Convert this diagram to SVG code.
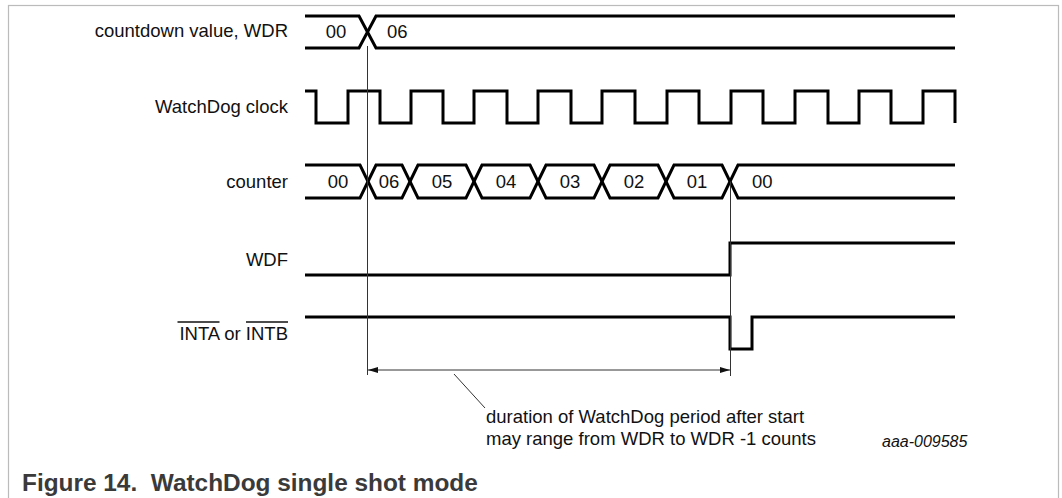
<svg xmlns="http://www.w3.org/2000/svg" width="1062" height="498" viewBox="0 0 1062 498">
<style>
.lbl{font-family:"Liberation Sans",Arial,sans-serif;font-size:18.5px;fill:#111}
.end{text-anchor:end}
.mid{text-anchor:middle}
.sig{fill:none;stroke:#000;stroke-width:3;stroke-linejoin:miter}
.thin{fill:none;stroke:#333;stroke-width:1}
.cap{font-family:"Liberation Sans",Arial,sans-serif;font-size:24.4px;font-weight:bold;fill:#3a3a3a;white-space:pre}
.id{font-family:"Liberation Sans",Arial,sans-serif;font-size:16px;font-style:italic;fill:#111}
</style>
<defs>
<marker id="arr" viewBox="0 0 10 6" refX="10" refY="3" markerWidth="10" markerHeight="6" markerUnits="userSpaceOnUse" orient="auto-start-reverse">
<path d="M0,0 L10,3 L0,6 Z" fill="#111"/>
</marker>
</defs>
<rect x="8.5" y="5.5" width="1050" height="520" fill="#fff" stroke="#bbb" stroke-width="1.2"/>

<g id="wdr">
<text class="lbl end" x="288" y="37">countdown value, WDR</text>
<path class="sig" d="M305,16 H359 L367.5,32 L359,48 H305"/>
<path class="sig" d="M955,16 H376 L367.5,32 L376,48 H955"/>
<text class="lbl mid" x="336" y="38">00</text>
<text class="lbl" x="387" y="38">06</text>
</g>

<g id="clock">
<text class="lbl end" x="288" y="113">WatchDog clock</text>
<path class="sig" d="M305,91 H316 V123 H348 V91 H380 V123 H411 V91 H443 V123 H474 V91 H507 V123 H538 V91 H571 V123 H602 V91 H635 V123 H667 V91 H699 V123 H731 V91 H763 V123 H795 V91 H828 V123 H859 V91 H891 V123 H923 V91 H955 V123"/>
</g>

<g id="counter">
<text class="lbl end" x="288" y="188">counter</text>
<path class="sig" d="M305,165 H360 L368,181.5 L360,198 H305"/>
<path class="sig" d="M368,181.5 L376,165 H402 L410,181.5 L402,198 H376 Z"/>
<path class="sig" d="M410,181.5 L418,165 H466 L474,181.5 L466,198 H418 Z"/>
<path class="sig" d="M474,181.5 L482,165 H530 L538,181.5 L530,198 H482 Z"/>
<path class="sig" d="M538,181.5 L546,165 H594 L602,181.5 L594,198 H546 Z"/>
<path class="sig" d="M602,181.5 L610,165 H658 L666,181.5 L658,198 H610 Z"/>
<path class="sig" d="M666,181.5 L674,165 H722 L730,181.5 L722,198 H674 Z"/>
<path class="sig" d="M955,165 H738 L730,181.5 L738,198 H955"/>
<text class="lbl mid" x="338" y="188">00</text>
<text class="lbl mid" x="389" y="188">06</text>
<text class="lbl mid" x="442" y="188">05</text>
<text class="lbl mid" x="506" y="188">04</text>
<text class="lbl mid" x="570" y="188">03</text>
<text class="lbl mid" x="634" y="188">02</text>
<text class="lbl mid" x="697" y="188">01</text>
<text class="lbl" x="752" y="188">00</text>
</g>

<g id="wdf">
<text class="lbl end" x="288" y="266">WDF</text>
<path class="sig" d="M305,275 H730 V243 H955"/>
</g>

<g id="int">
<text class="lbl end" x="288" y="340">INTA or INTB</text>
<line x1="177.5" y1="322" x2="219.5" y2="322" stroke="#111" stroke-width="1.3"/>
<line x1="246" y1="322" x2="288" y2="322" stroke="#111" stroke-width="1.3"/>
<path class="sig" d="M305,317 H730 V349 H752 V317 H955"/>
</g>

<g id="connectors">
<line class="thin" x1="367.5" y1="46" x2="367.5" y2="375"/>
<line class="thin" x1="730.5" y1="181.5" x2="730.5" y2="376"/>
<line class="thin" x1="368" y1="370" x2="730" y2="370" marker-start="url(#arr)" marker-end="url(#arr)"/>
<line class="thin" x1="454" y1="374" x2="485" y2="408"/>
</g>

<g id="note">
<text class="lbl" x="486" y="423">duration of WatchDog period after start</text>
<text class="lbl" x="486" y="445">may range from WDR to WDR -1 counts</text>
</g>
<text class="id" x="882" y="447">aaa-009585</text>
<text class="cap" x="22" y="491">Figure 14.  WatchDog single shot mode</text>
</svg>
